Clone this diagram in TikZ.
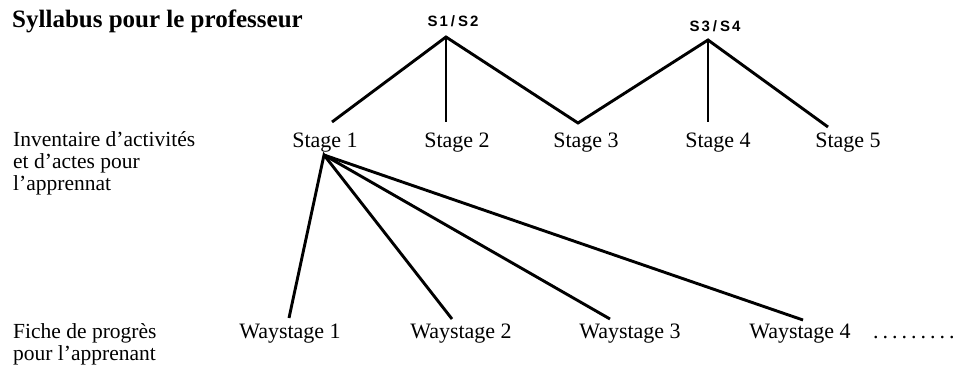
\documentclass[tikz,border=0pt]{standalone}
\usepackage{fontspec}
\setmainfont{Liberation Serif}
\newfontfamily\slabelfont{Liberation Sans}
\begin{document}
\begin{tikzpicture}[x=1pt,y=-1pt,
  txt/.style={font=\fontsize{22}{22}\selectfont, inner sep=0pt, anchor=base},
  lefttxt/.style={font=\fontsize{21.5}{22}\selectfont, inner sep=0pt, anchor=base west},
  titletxt/.style={font=\fontsize{25}{25}\selectfont\bfseries, inner sep=0pt, anchor=base west},
  slbl/.style={font=\fontsize{15}{15}\selectfont\slabelfont\bfseries, inner sep=0pt, anchor=base},
  conn/.style={line width=2.9pt, line join=miter, line cap=butt}]
\useasboundingbox (0,0) rectangle (958,366);
\fill[white] (0,0) rectangle (958,366);

% title and row labels
\node[titletxt] (title) at (12,28) {Syllabus pour le professeur};
\node[lefttxt] (inv1) at (13,147) {Inventaire d’activités};
\node[lefttxt] (inv2) at (13,169) {et d’actes pour};
\node[lefttxt] (inv3) at (13,191) {l’apprennat};
\node[lefttxt] (fic1) at (13,338) {Fiche de progrès};
\node[lefttxt] (fic2) at (13,360) {pour l’apprenant};

% S labels
\node[slbl] (s12) at (453,27) {S\kern2pt1\kern3pt/\kern3pt S\kern2pt2};
\node[slbl] (s34) at (715,32) {S\kern2pt3\kern3pt/\kern3pt S\kern2pt4};
\coordinate (a12) at (446,37);
\coordinate (a34) at (708,40);

% stages
\node[txt] (st1) at (325,148) {Stage 1};
\node[txt] (st2) at (457,148) {Stage 2};
\node[txt] (st3) at (586,148) {Stage 3};
\node[txt] (st4) at (718,148) {Stage 4};
\node[txt] (st5) at (848,148) {Stage 5};
\coordinate (st1t) at (332,122);
\coordinate (st2t) at (446,122);
\coordinate (st3t) at (578,123);
\coordinate (st4t) at (708,122);
\coordinate (st5t) at (828,127);
\coordinate (st1b) at (324,155);

% waystages
\node[txt] (w1) at (290,338) {Waystage 1};
\node[txt] (w2) at (461,338) {Waystage 2};
\node[txt] (w3) at (630,338) {Waystage 3};
\node[txt] (w4) at (800,338) {Waystage 4};
\node[txt, anchor=base west] (dots) at (873,338) {.\kern4pt.\kern4pt.\kern4pt.\kern4pt.\kern4pt.\kern4pt.\kern4pt.\kern4pt.};
\coordinate (w1t) at (289,318);
\coordinate (w2t) at (452,319);
\coordinate (w3t) at (610,319);
\coordinate (w4t) at (803,320);

% connectors
\draw[conn] (st1t) -- (a12) -- (st3t) -- (a34) -- (st5t);
\draw[conn] (a12) -- (st2t);
\draw[conn] (a34) -- (st4t);
\draw[conn] (w1t) -- (st1b) -- (w2t);
\draw[conn] (st1b) -- (w3t);
\draw[conn] (st1b) -- (w4t);
\end{tikzpicture}
\end{document}
